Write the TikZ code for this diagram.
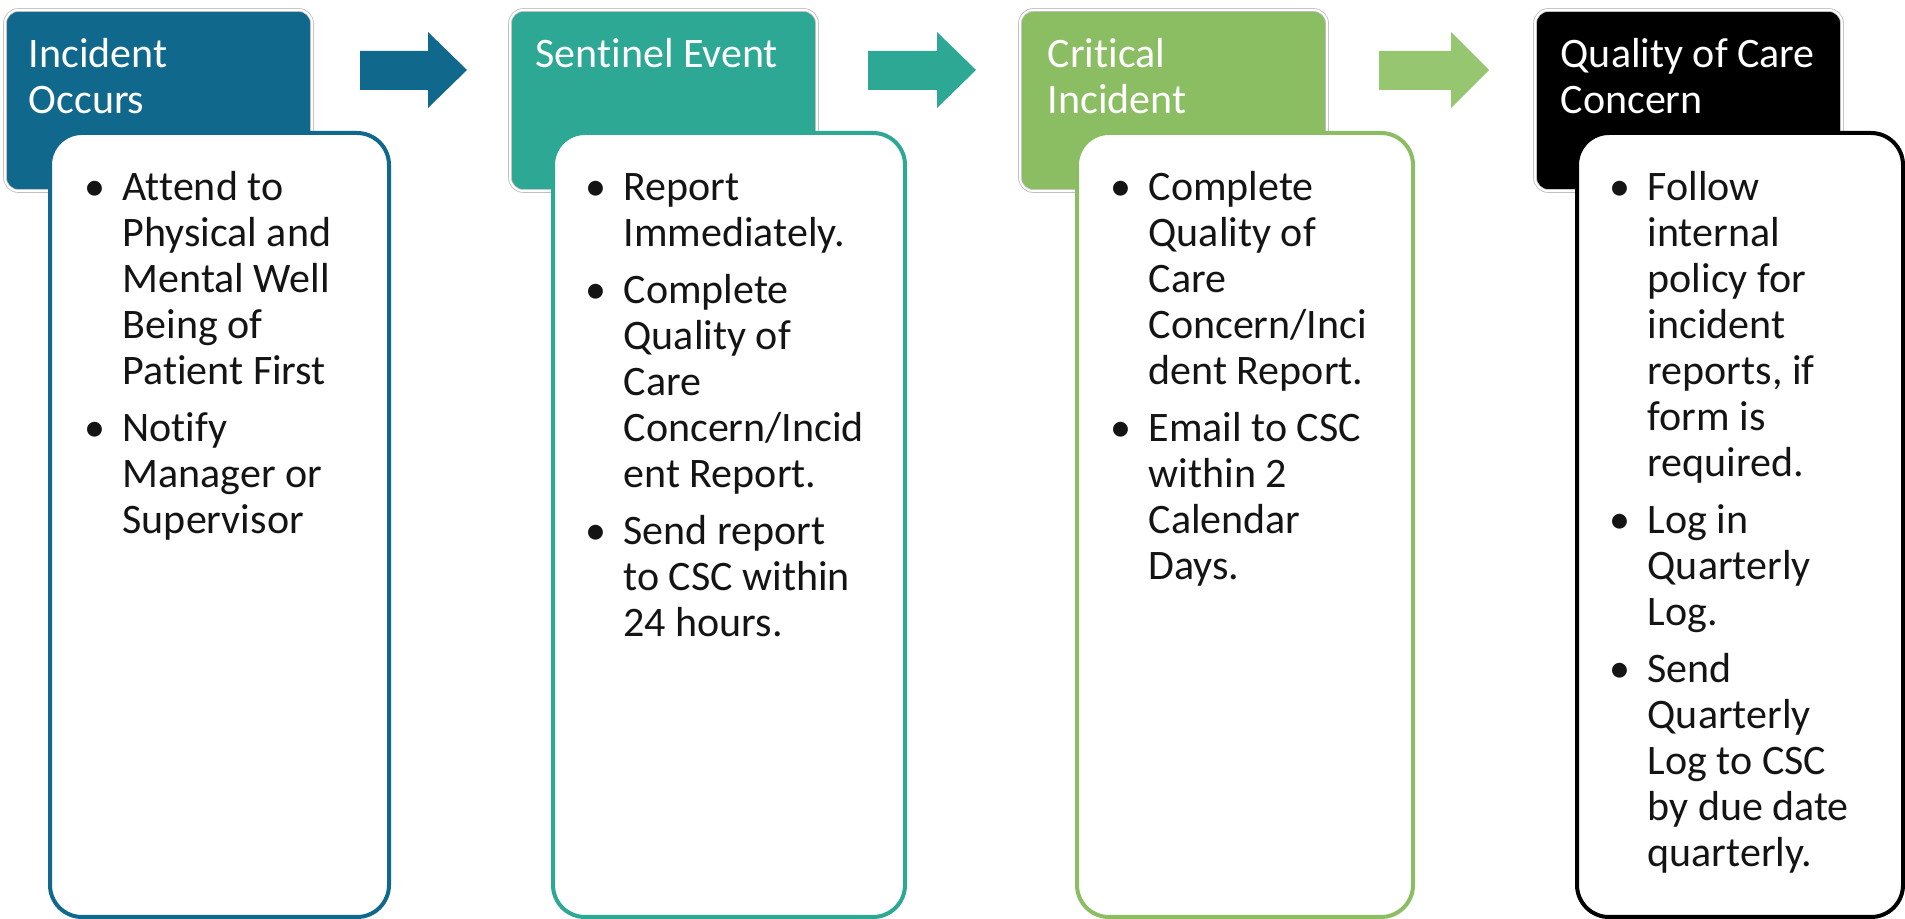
\documentclass[tikz,border=0pt]{standalone}
\usepackage{fontspec}
\setmainfont{Carlito}[Ligatures=NoCommon]
\usetikzlibrary{positioning}
\definecolor{qcBlue}{RGB}{16,105,140}
\definecolor{qcTeal}{RGB}{44,168,148}
\definecolor{qcGreen}{RGB}{139,190,98}
\definecolor{qcLime}{RGB}{150,199,112}
\definecolor{qcInk}{RGB}{20,20,20}

\newcommand{\bul}{\llap{\makebox[16.8pt]{\textbullet}}}
\newcommand{\gap}{3.3pt}

\tikzset{
  hdrbox/.style={rounded corners=4pt, draw=black!25, double=white,
    double distance=0.6pt, line width=0.25pt, inner sep=0pt,
    minimum width=92.1pt, minimum height=54.3pt},
  bodybox/.style={rounded corners=9.6pt, fill=white, line width=1.2pt,
    inner sep=0pt, minimum height=235.2pt},
  hdrtext/.style={anchor=north west, inner sep=0pt, align=left, text=white,
    font=\fontsize{12.6}{13.8}\selectfont},
  bodytext/.style={anchor=north west, inner sep=0pt, align=left, text=qcInk,
    font=\fontsize{12.6}{13.8}\selectfont}
}

\begin{document}
\begin{tikzpicture}[x=0.3pt, y=-0.3pt]
  \useasboundingbox (0,0) rectangle (1905,919);

  % Incident Occurs
  \begin{scope}
    \node[hdrbox, fill=qcBlue] (hdrInc) at (158.5,100.5) {};
    \node[bodybox, draw=qcBlue, minimum width=101.7pt] (bodyInc) at (219.5,525) {};
    \node[hdrtext] (ttlInc) at (28,35) {\strut Incident\\Occurs};
    \node[bodytext] (txtInc) at (122,167.8) {\strut\bul Attend to\\Physical and\\Mental Well\\Being of\\Patient First\\[\gap]\bul Notify\\Manager or\\Supervisor};
    \fill[qcBlue] (360,51) -- (428,51) -- (428,32) -- (467,70) -- (428,108) -- (428,90) -- (360,90) -- cycle;
  \end{scope}

  % Sentinel Event
  \begin{scope}
    \node[hdrbox, fill=qcTeal] (hdrSen) at (663.5,100.5) {};
    \node[bodybox, draw=qcTeal, minimum width=105.6pt] (bodySen) at (729,525) {};
    \node[hdrtext] (ttlSen) at (535,35) {\strut Sentinel Event};
    \node[bodytext] (txtSen) at (623,167.8) {\strut\bul Report\\Immediately.\\[\gap]\bul Complete\\Quality of\\Care\\Concern/Incid\\ent Report.\\[\gap]\bul Send report\\to CSC within\\24 hours.};
    \fill[qcTeal] (868,51) -- (937,51) -- (937,32) -- (976,70) -- (937,108) -- (937,90) -- (868,90) -- cycle;
  \end{scope}

  % Critical Incident
  \begin{scope}
    \node[hdrbox, fill=qcGreen] (hdrCri) at (1173.5,100.5) {};
    \node[bodybox, draw=qcGreen, minimum width=100.8pt] (bodyCri) at (1245,525) {};
    \node[hdrtext] (ttlCri) at (1047,35) {\strut Critical\\Incident};
    \node[bodytext] (txtCri) at (1148,167.8) {\strut\bul Complete\\Quality of\\Care\\Concern/Inci\\dent Report.\\[\gap]\bul Email to CSC\\within 2\\Calendar\\Days.};
    \fill[qcLime] (1379,51) -- (1451,51) -- (1451,32) -- (1489,70) -- (1451,108) -- (1451,90) -- (1379,90) -- cycle;
  \end{scope}

  % Quality of Care Concern
  \begin{scope}
    \node[hdrbox, fill=black] (hdrQoc) at (1688.5,100.5) {};
    \node[bodybox, draw=black, minimum width=97.8pt] (bodyQoc) at (1740,525) {};
    \node[hdrtext] (ttlQoc) at (1560,35) {\strut Quality of Care\\Concern};
    \node[bodytext] (txtQoc) at (1647,167.8) {\strut\bul Follow\\internal\\policy for\\incident\\reports, if\\form is\\required.\\[\gap]\bul Log in\\Quarterly\\Log.\\[\gap]\bul Send\\Quarterly\\Log to CSC\\by due date\\quarterly.};
  \end{scope}
\end{tikzpicture}
\end{document}
